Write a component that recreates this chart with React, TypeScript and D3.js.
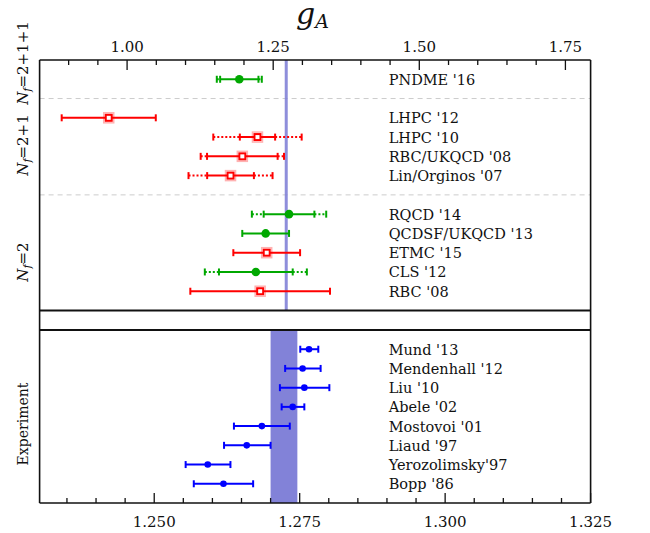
import React from "react";
import * as d3 from "d3";

// ---------- data ----------
const latticeLabels = [
  "PNDME '16",
  "LHPC '12",
  "LHPC '10",
  "RBC/UKQCD '08",
  "Lin/Orginos '07",
  "RQCD '14",
  "QCDSF/UKQCD '13",
  "ETMC '15",
  "CLS '12",
  "RBC '08",
];
const latticeSlots = [1, 3, 4, 5, 6, 8, 9, 10, 11, 12];
const latticeValues = [1.192, 0.9686, 1.2231, 1.1972, 1.177, 1.2771, 1.2371, 1.2389, 1.2203, 1.2277];
const latticeStatErr = [0.0328, 0.0805, 0.0302, 0.0604, 0.04, 0.0434, 0.04, 0.0571, 0.0631, 0.1195];
const latticeTotErr = [0.0385, 0, 0.0756, 0.0713, 0.0719, 0.0636, 0, 0, 0.0873, 0];
// quality flag: true = passes criteria (filled circle), false = open square
const latticeQuality = [true, false, false, false, false, true, true, false, true, false];

const groupLabels = ["2+1+1", "2+1", "2"];
const groupSeparatorSlots = [2, 7];

const expLabels = [
  "Mund '13",
  "Mendenhall '12",
  "Liu '10",
  "Abele '02",
  "Mostovoi '01",
  "Liaud '97",
  "Yerozolimsky'97",
  "Bopp '86",
];
const expValues = [1.2766, 1.2755, 1.2758, 1.2738, 1.2685, 1.2659, 1.2592, 1.2619];
const expLow = [1.2751, 1.2725, 1.2716, 1.2719, 1.2637, 1.262, 1.2554, 1.2568];
const expHigh = [1.2782, 1.2786, 1.2801, 1.2758, 1.2733, 1.27, 1.2631, 1.267];

const expAverage = 1.2723;
const expAverageErr = 0.0023;

const topTicks = [1.0, 1.25, 1.5, 1.75];
const bottomTicks = [1.25, 1.275, 1.3, 1.325];

// ---------- layout ----------
const W = 650;
const H = 533;
const L = 39.6;
const R = 590.6;
const topY0 = 60;
const topY1 = 310.5;
const botY0 = 330;
const botY1 = 503;
const FONT = "'DejaVu Serif', serif";
const FS = 15;
const LFS = 14.5;

const RED = "#ff0000";
const GREEN = "#00a800";
const BLUE = "#0000ff";
const BAND = "#8282d8";

export default function App() {
  const xTop = d3.scaleLinear().domain([0.8503, 1.7931]).range([L, R]);
  const xBot = d3.scaleLinear().domain([1.2303, 1.325]).range([L, R]);
  const yTop = d3.scaleLinear().domain([0, 13]).range([topY0, topY1]);
  const yBot = d3.scaleLinear().domain([0, 9]).range([botY0, botY1]);

  const topMinor = d3.range(0.9, 1.79, 0.05).filter((v) => !topTicks.some((t) => Math.abs(t - v) < 1e-6));
  const botMinor = d3.range(1.235, 1.325, 0.005).filter((v) => !bottomTicks.some((t) => Math.abs(t - v) < 1e-6));

  const cap = 3.5;

  const errorBar = (
    key: string,
    x: d3.ScaleLinear<number, number>,
    y: number,
    lo: number,
    hi: number,
    tlo: number | null,
    thi: number | null,
    color: string
  ) => (
    <g key={key} stroke={color} strokeWidth={2} fill="none">
      {tlo !== null && thi !== null && (
        <>
          <line x1={x(tlo)} x2={x(lo)} y1={y} y2={y} strokeDasharray="2,2" />
          <line x1={x(hi)} x2={x(thi)} y1={y} y2={y} strokeDasharray="2,2" />
          <line x1={x(tlo)} x2={x(tlo)} y1={y - cap} y2={y + cap} />
          <line x1={x(thi)} x2={x(thi)} y1={y - cap} y2={y + cap} />
        </>
      )}
      <line x1={x(lo)} x2={x(hi)} y1={y} y2={y} />
      <line x1={x(lo)} x2={x(lo)} y1={y - cap} y2={y + cap} />
      <line x1={x(hi)} x2={x(hi)} y1={y - cap} y2={y + cap} />
    </g>
  );

  const groupCenters = [63, 145, 262];

  return (
    <svg width={W} height={H} style={{ display: "block", position: "absolute", left: 0, top: 0 }} fontFamily={FONT}>
      <rect x={0} y={0} width={W} height={H} fill="#fff" />

      {/* Title */}
      <text x={296} y={24} fontSize={30} fontStyle="italic" fill="#111">
        g
        <tspan fontSize={19} dy={4}>
          A
        </tspan>
      </text>

      {/* separators */}
      {groupSeparatorSlots.map((s) => (
        <line key={s} x1={L} x2={R} y1={yTop(s)} y2={yTop(s)} stroke="#cccccc" strokeWidth={1} strokeDasharray="5,4" />
      ))}

      {/* experimental average */}
      <line x1={xTop(expAverage)} x2={xTop(expAverage)} y1={topY0} y2={topY1} stroke={BAND} strokeWidth={3} opacity={0.9} />
      <rect
        x={xBot(expAverage - expAverageErr)}
        y={botY0}
        width={xBot(expAverage + expAverageErr) - xBot(expAverage - expAverageErr)}
        height={botY1 - botY0}
        fill={BAND}
      />

      {/* lattice error bars */}
      {latticeLabels.map((lab, i) => {
        const y = yTop(latticeSlots[i]);
        const c = latticeQuality[i] ? GREEN : RED;
        const v = latticeValues[i];
        const s = latticeStatErr[i];
        const t = latticeTotErr[i];
        return (
          <g key={lab}>
            {errorBar("e" + i, xTop, y, v - s, v + s, t ? v - t : null, t ? v + t : null, c)}
            {latticeQuality[i] ? (
              <circle cx={xTop(v)} cy={y} r={4.3} fill={GREEN} />
            ) : (
              <g>
                <rect x={xTop(v) - 5} y={y - 5} width={10} height={10} fill="none" stroke={RED} strokeOpacity={0.3} strokeWidth={1.5} />
                <rect x={xTop(v) - 3} y={y - 3} width={6} height={6} fill="#fff" stroke={RED} strokeWidth={2} />
              </g>
            )}
            <text x={388.7} y={y + 5.5} fontSize={LFS} fill="#111">
              {lab}
            </text>
          </g>
        );
      })}

      {/* experiment error bars */}
      {expLabels.map((lab, i) => {
        const y = yBot(i + 1);
        return (
          <g key={lab}>
            {errorBar("x" + i, xBot, y, expLow[i], expHigh[i], null, null, BLUE)}
            <circle cx={xBot(expValues[i])} cy={y} r={3.3} fill={BLUE} />
            <text x={388.7} y={y + 5.5} fontSize={LFS} fill="#111">
              {lab}
            </text>
          </g>
        );
      })}

      {/* frame */}
      <g fill="none" stroke="#111">
        <line x1={L} x2={L} y1={topY0} y2={botY1} strokeWidth={1.6} />
        <line x1={R} x2={R} y1={topY0} y2={botY1} strokeWidth={1.6} />
        <line x1={L} x2={R} y1={topY0} y2={topY0} strokeWidth={1.6} />
        <line x1={L} x2={R} y1={botY1} y2={botY1} strokeWidth={1.6} />
        <line x1={L} x2={R} y1={topY1} y2={topY1} strokeWidth={2.2} />
        <line x1={L} x2={R} y1={botY0} y2={botY0} strokeWidth={2.2} />
      </g>

      {/* axis ticks */}
      <g stroke="#111" strokeWidth={1.3}>
        {topTicks.map((t) => (
          <line key={t} x1={xTop(t)} x2={xTop(t)} y1={topY0} y2={topY0 + 10} />
        ))}
        {topMinor.map((t) => (
          <line key={t} x1={xTop(t)} x2={xTop(t)} y1={topY0} y2={topY0 + 5} />
        ))}
        {bottomTicks.map((t) => (
          <line key={t} x1={xBot(t)} x2={xBot(t)} y1={botY1} y2={botY1 - 10} />
        ))}
        {botMinor.map((t) => (
          <line key={t} x1={xBot(t)} x2={xBot(t)} y1={botY1} y2={botY1 - 5} />
        ))}
      </g>
      <g fontSize={FS} fill="#111" textAnchor="middle">
        {topTicks.map((t) => (
          <text key={t} x={xTop(t)} y={52}>
            {d3.format(".2f")(t)}
          </text>
        ))}
        {bottomTicks.map((t) => (
          <text key={t} x={xBot(t)} y={527}>
            {d3.format(".3f")(t)}
          </text>
        ))}
      </g>

      {/* group labels */}
      {groupLabels.map((g, i) => (
        <text key={g} transform={`translate(28,${groupCenters[i]}) rotate(-90)`} textAnchor="middle" fontSize={FS} fill="#111">
          <tspan fontStyle="italic">N</tspan>
          <tspan fontStyle="italic" fontSize={11} dy={3}>
            f
          </tspan>
          <tspan dy={-3}>={g}</tspan>
        </text>
      ))}
      <text transform={`translate(28,424) rotate(-90)`} textAnchor="middle" fontSize={14} fill="#111">
        Experiment
      </text>
    </svg>
  );
}
